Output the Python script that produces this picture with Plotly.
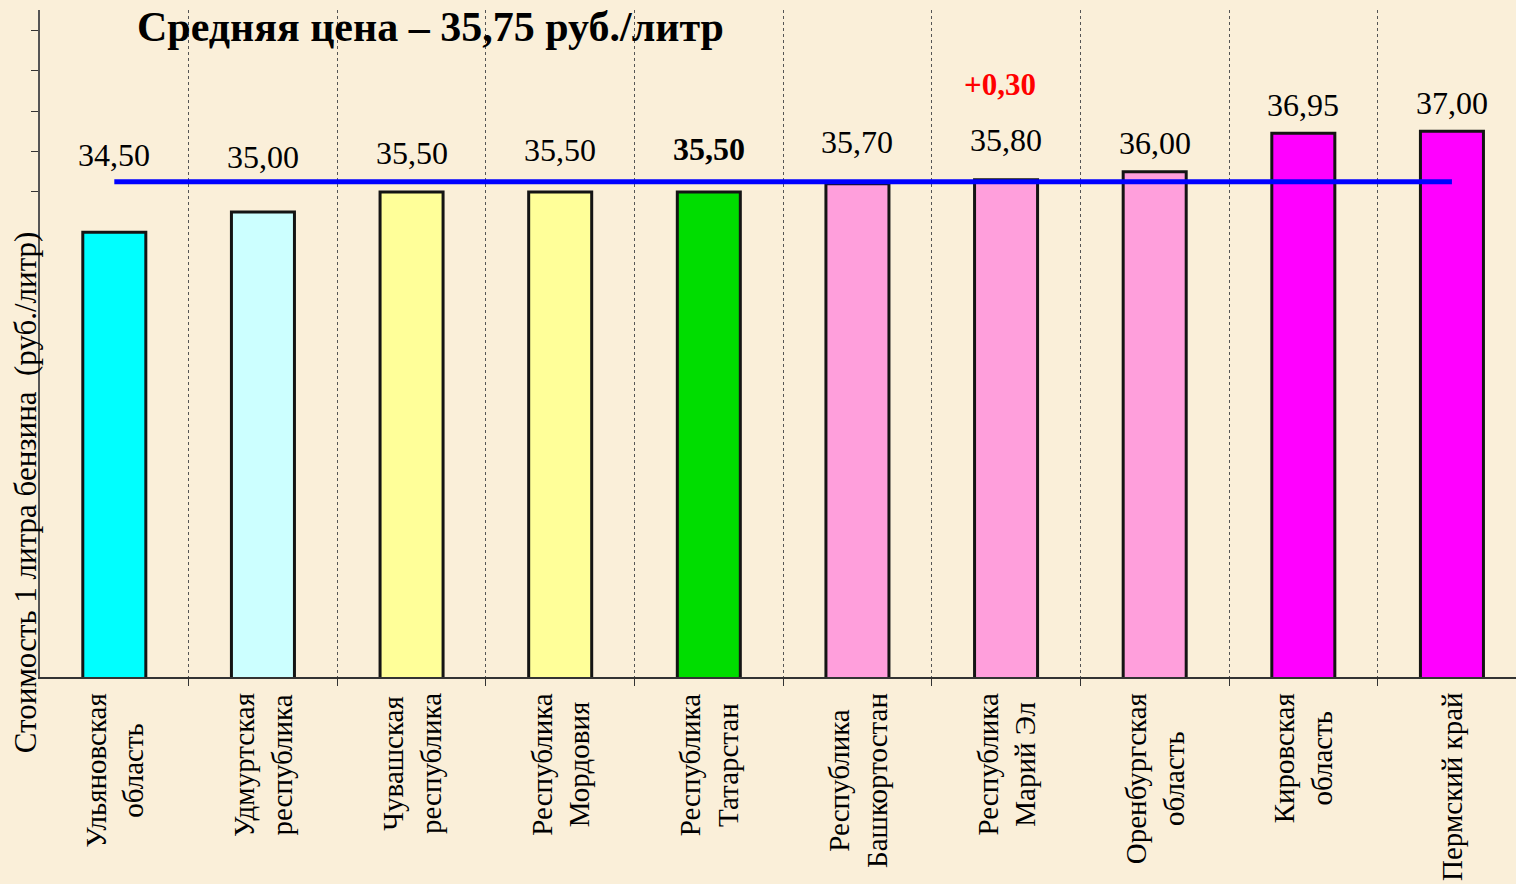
import plotly.graph_objects as go

# ---- data ----
regions = [
    "Ульяновская<br>область",
    "Удмуртская<br>республика",
    "Чувашская<br>республика",
    "Республика<br>Мордовия",
    "Республика<br>Татарстан",
    "Республика<br>Башкортостан",
    "Республика<br>Марий Эл",
    "Оренбургская<br>область",
    "Кировская<br>область",
    "Пермский край",
]
prices = [34.50, 35.00, 35.50, 35.50, 35.50, 35.70, 35.80, 36.00, 36.95, 37.00]
price_labels = ["34,50", "35,00", "35,50", "35,50", "35,50", "35,70", "35,80", "36,00", "36,95", "37,00"]
average_price = 35.75
title_text = "Средняя цена – 35,75 руб./литр"
yaxis_title = "Стоимость 1 литра бензина  (руб./литр)"
change_label = "+0,30"
change_index = 6

# ---- styles ----
bar_colors = ["#00FFFF", "#CCFFFF", "#FFFF99", "#FFFF99", "#00DD00",
              "#FF9FDC", "#FF9FDC", "#FF9FDC", "#FF00FF", "#FF00FF"]
label_bold = [False, False, False, False, True, False, False, False, False, False]
label_shift = [77, 55, 39, 42, 43, 42, 40, 29, 28, 28]  # pixel offsets above bar top
BG = "#FAEFD9"
FONT = "Liberation Serif, Times New Roman, serif"

xs = list(range(len(regions)))

fig = go.Figure()
fig.add_trace(go.Bar(
    x=xs, y=prices, width=0.424,
    marker=dict(color=bar_colors, line=dict(color="#141414", width=3)),
    hoverinfo="skip",
))
fig.add_trace(go.Scatter(
    x=[xs[0], xs[-1]], y=[average_price, average_price], mode="lines",
    line=dict(color="#0000FF", width=5), hoverinfo="skip",
))

annotations = []
for i, (v, t, b, s) in enumerate(zip(prices, price_labels, label_bold, label_shift)):
    annotations.append(dict(
        x=i, y=v, xref="x", yref="y", text=f"<b>{t}</b>" if b else t,
        showarrow=False, yanchor="middle", yshift=s,
        font=dict(family=FONT, size=32, color="#000000"),
    ))
annotations.append(dict(
    x=change_index, y=prices[change_index], xref="x", yref="y",
    text=f"<b>{change_label}</b>", showarrow=False, yanchor="middle",
    yshift=95, xshift=-6, font=dict(family=FONT, size=31, color="#FF0000"),
))
for i, r in enumerate(regions):
    annotations.append(dict(
        x=i, y=0, xref="x", yref="paper", text=r, textangle=-90,
        showarrow=False, xanchor="center", yanchor="top", yshift=-14,
        align="center", font=dict(family=FONT, size=29, color="#000000"),
    ))
annotations.append(dict(
    x=0.0644, y=0.9745, xref="paper", yref="paper", text=f"<b>{title_text}</b>",
    showarrow=False, xanchor="left", yanchor="middle",
    font=dict(family=FONT, size=42, color="#000000"),
))
annotations.append(dict(
    x=0, y=0.277, xref="paper", yref="paper", text=yaxis_title, textangle=-90,
    showarrow=False, xanchor="center", yanchor="middle", xshift=-15,
    font=dict(family=FONT, size=31, color="#000000"),
))

fig.update_layout(
    width=1516, height=884,
    margin=dict(l=40, r=0, t=10, b=207),
    paper_bgcolor=BG, plot_bgcolor=BG,
    showlegend=False,
    annotations=annotations,
    xaxis=dict(
        range=[-0.5, 9.431], tickvals=[i + 0.5 for i in range(len(regions) - 1)],
        showticklabels=False, ticks="outside", ticklen=7, tickcolor="#333333",
        showgrid=True, gridcolor="#555555", griddash="dot", gridwidth=1,
        showline=True, linecolor="#333333", linewidth=1.5, zeroline=False,
    ),
    yaxis=dict(
        range=[23.5, 40.0], tickvals=[35.5, 36.5, 37.5, 38.5, 39.5],
        showticklabels=False, ticks="outside", ticklen=7, tickcolor="#333333",
        showgrid=False, showline=True, linecolor="#555555", linewidth=1.5,
        zeroline=False,
    ),
)

fig.write_html(
    "out.html",
    config={"displayModeBar": False},
    post_script="document.body.style.margin='0';document.body.style.background='" + BG + "';",
)
